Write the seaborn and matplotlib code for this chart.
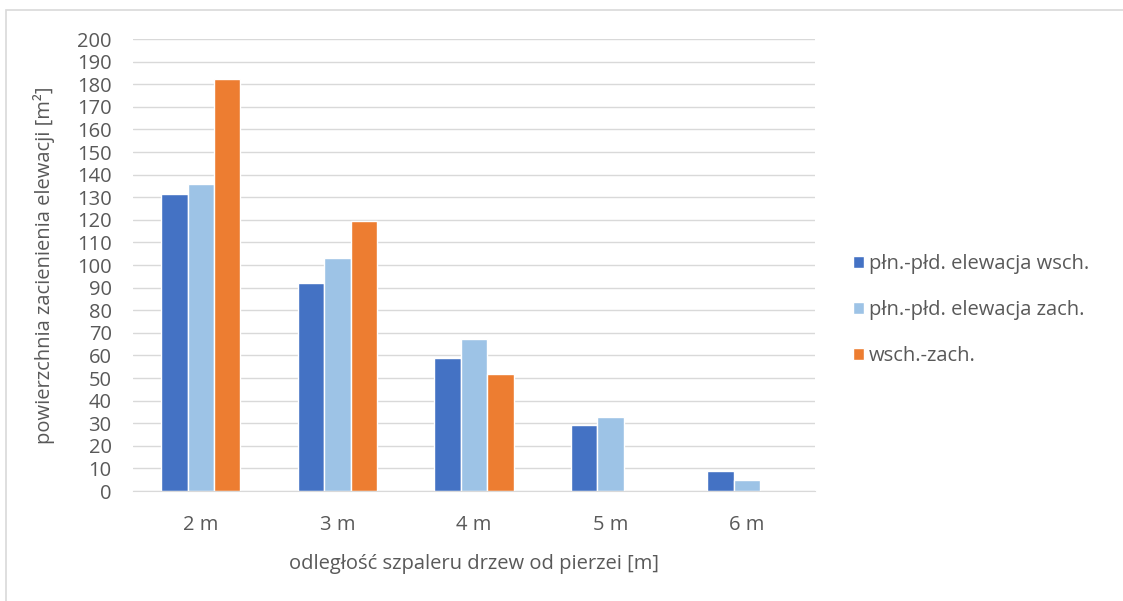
import numpy as np
import pandas as pd
import matplotlib.pyplot as plt
import seaborn as sns

# Dane
kategorie = ['2 m', '3 m', '4 m', '5 m', '6 m']
serie = ['płn.-płd. elewacja wsch.', 'płn.-płd. elewacja zach.', 'wsch.-zach.']
wsch = [131.5, 92, 59, 29.2, 8.7]
zach = [135.8, 103, 67.4, 32.6, 4.9]
wsch_zach = [182.3, 119.5, 52, np.nan, np.nan]
kolory = ['#4472C4', '#9DC3E6', '#ED7D31']

df = pd.DataFrame({
    'odleglosc': kategorie * 3,
    'seria': [s for s in serie for _ in kategorie],
    'wartosc': wsch + zach + wsch_zach,
})

sns.set_style('white')
plt.rcParams['font.family'] = ['Open Sans', 'DejaVu Sans']
tekst = '#595959'
fs = 14.5

fig = plt.figure(figsize=(11.23, 6.01), dpi=100)
ax = fig.add_axes([0.118, 0.183, 0.608, 0.752])

sns.barplot(data=df, x='odleglosc', y='wartosc', hue='seria', hue_order=serie,
            palette=kolory, width=0.58, saturation=1, ax=ax, gap=0)

ax.set_ylim(0, 200)
ax.set_yticks(range(0, 201, 10))
ax.set_xlim(-0.5, len(kategorie) - 0.5)
ax.grid(axis='y', color='#d9d9d9', linewidth=1)
ax.set_axisbelow(True)
for s in ['top', 'right', 'left']:
    ax.spines[s].set_visible(False)
ax.spines['bottom'].set_color('#d9d9d9')
ax.tick_params(axis='both', length=0, labelsize=fs, labelcolor=tekst)
ax.tick_params(axis='x', pad=17)
ax.tick_params(axis='y', pad=15)
ax.set_xlabel('odległość szpaleru drzew od pierzei [m]', fontsize=fs, color=tekst, labelpad=14)
ax.set_ylabel('powierzchnia zacienienia elewacji [m²]', fontsize=fs, color=tekst, va='center')
ax.yaxis.set_label_coords(-0.13, 0.5)

ax.legend(loc='center left', bbox_to_anchor=(1.055, 0.4), frameon=False,
          fontsize=fs, labelcolor=tekst, handlelength=0.55, handleheight=0.55,
          handletextpad=0.25, labelspacing=1.28, borderpad=0, borderaxespad=0)

# ramka wykresu (widoczna tylko lewa i górna krawędź)
fig.patches.append(plt.Rectangle((6 / 1123, -0.1), 1.2, 1 - 10 / 601 + 0.1,
                                 transform=fig.transFigure, fill=False,
                                 edgecolor='#d9d9d9', linewidth=1.2))

fig.savefig('out.png', dpi=100)
